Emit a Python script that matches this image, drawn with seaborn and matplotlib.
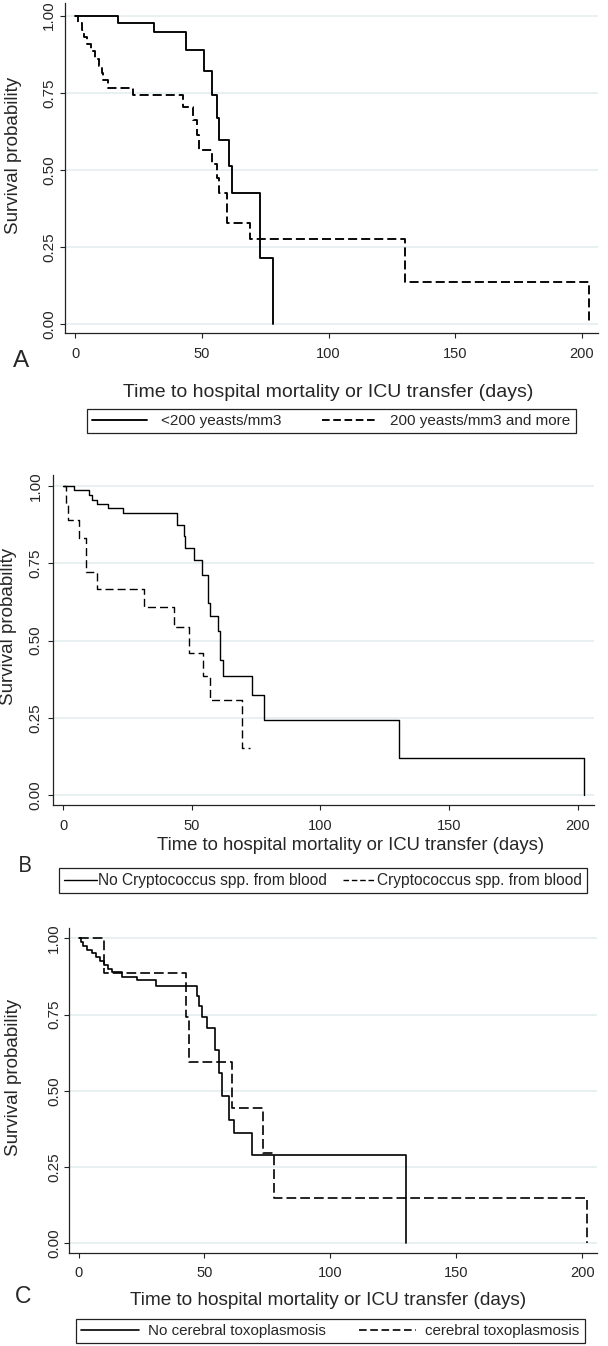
import numpy as np
import pandas as pd
import matplotlib
matplotlib.use("Agg")
import matplotlib.pyplot as plt
import seaborn as sns
from matplotlib.lines import Line2D

# ---------------- data (Kaplan-Meier step values) ----------------
# Panel A
a_low_t = [0, 16.7, 31.0, 43.7, 50.8, 54.0, 56.0, 56.8, 60.8, 62.0, 73.0, 78.0]
a_low_s = [1.0, 0.977, 0.946, 0.889, 0.821, 0.744, 0.669, 0.596, 0.512, 0.426, 0.214, 0.0]
a_high_t = [0, 1.0, 2.5, 3.6, 4.8, 6.2, 7.6, 9.3, 10.5, 11.1, 12.8, 22.7, 42.5, 46.3, 48.0,
            49.0, 54.0, 56.0, 56.7, 60.0, 69.0, 130.3, 202.7]
a_high_s = [1.0, 0.977, 0.953, 0.930, 0.907, 0.884, 0.860, 0.837, 0.814, 0.791, 0.767, 0.743,
            0.703, 0.662, 0.613, 0.565, 0.519, 0.473, 0.424, 0.329, 0.276, 0.138, 0.0]
a_labels = ["<200 yeasts/mm3", "200 yeasts/mm3 and more"]

# Panel B
b_neg_t = [0, 4.2, 10.1, 11.2, 13.1, 17.2, 23.3, 44.2, 47.0, 47.4, 50.9, 54.0, 56.3, 57.1,
           60.2, 61.0, 62.1, 73.3, 78.0, 130.4, 202.6]
b_neg_s = [1.0, 0.985, 0.970, 0.955, 0.940, 0.927, 0.913, 0.875, 0.837, 0.799, 0.761, 0.712,
           0.622, 0.578, 0.531, 0.437, 0.386, 0.323, 0.242, 0.121, 0.0]
b_pos_t = [0, 1.2, 1.9, 6.1, 8.7, 13.2, 31.4, 43.2, 48.9, 54.2, 57.1, 69.4, 72.6]
b_pos_s = [1.0, 0.942, 0.889, 0.833, 0.723, 0.667, 0.610, 0.543, 0.459, 0.386, 0.307, 0.154, 0.154]
b_labels = ["No Cryptococcus spp. from blood", "Cryptococcus spp. from blood"]

# Panel C
c_neg_t = [0, 0.9, 1.8, 3.4, 5.2, 7.1, 8.5, 10.2, 11.8, 13.2, 17.1, 23.0, 30.9, 47.0, 47.9,
           49.1, 51.1, 54.2, 55.8, 56.8, 59.9, 61.8, 69.0, 130.1]
c_neg_s = [1.0, 0.988, 0.975, 0.963, 0.951, 0.938, 0.926, 0.914, 0.901, 0.889, 0.874, 0.862,
           0.843, 0.811, 0.778, 0.742, 0.707, 0.634, 0.559, 0.484, 0.403, 0.361, 0.290, 0.0]
c_pos_t = [0, 10.2, 42.6, 44.0, 61.1, 73.4, 77.8, 201.9]
c_pos_s = [1.0, 0.887, 0.741, 0.593, 0.444, 0.296, 0.148, 0.0]
c_labels = ["No cerebral toxoplasmosis", "cerebral toxoplasmosis"]

x_ticks = [0, 50, 100, 150, 200]
y_ticks = [0.0, 0.25, 0.50, 0.75, 1.00]
y_ticklabels = ["0.00", "0.25", "0.50", "0.75", "1.00"]
x_title = "Time to hospital mortality or ICU transfer (days)"
y_title = "Survival probability"

# ---------------- style ----------------
sns.set_style("white")
plt.rcParams["font.family"] = ["Liberation Sans", "DejaVu Sans"]
plt.rcParams["lines.scale_dashes"] = False

fig = plt.figure(figsize=(6.08, 13.46), dpi=100)

GRID = "#e6eff0"

panels = [
    dict(rect=[0.1069, 0.7526, 0.8766, 0.24517], xlim=(-4.07, 206.4), ylim=(-0.028, 1.041),
         solid=(a_low_t, a_low_s), dashed=(a_high_t, a_high_s), labels=a_labels,
         lw=1.35, dash=(6.5, 2.9), xpad=6.5, ypad=2.7,
         ylab=(-0.0807, 0.539), xlab=(0.4934, -0.193), xlab_size=14,
         letter="A", letter_xy=(13, 367), letter_size=17.5, letter_font=["Liberation Sans"],
         leg_bbox=(0.1431, 0.67682, 0.8043, 0.0208), leg_size=11, hl=3.6, htp=0.9, leg_dash=(5.5, 2.6)),
    dict(rect=[0.0877, 0.40193, 0.8898, 0.24517], xlim=(-3.9, 206.5), ylim=(-0.031, 1.035),
         solid=(b_neg_t, b_neg_s), dashed=(b_pos_t, b_pos_s), labels=b_labels,
         lw=1.0, dash=(5.8, 2.9), xpad=6.5, ypad=4.0,
         ylab=(-0.0671, 0.542), xlab=(0.550, -0.136), xlab_size=13.3,
         letter="B", letter_xy=(18, 872), letter_size=15.5, letter_font=["Open Sans", "DejaVu Sans"],
         leg_bbox=(0.0970, 0.33507, 0.8684, 0.02155), leg_size=11.2, hl=2.1, htp=0.05, leg_dash=(4.0, 2.0)),
    dict(rect=[0.1140, 0.06887, 0.8674, 0.24168], xlim=(-3.7, 205.8), ylim=(-0.033, 1.034),
         solid=(c_neg_t, c_neg_s), dashed=(c_pos_t, c_pos_s), labels=c_labels,
         lw=1.2, dash=(7.0, 2.9), xpad=5.3, ypad=2.2,
         ylab=(-0.0897, 0.542), xlab=(0.4905, -0.159), xlab_size=13.7,
         letter="C", letter_xy=(15, 1303), letter_size=16.5, letter_font=["Liberation Sans"],
         leg_bbox=(0.125, 0.0008, 0.8372, 0.0208), leg_size=10.9, hl=3.8, htp=0.6, leg_dash=(5.5, 2.6)),
]

W, H = 608.0, 1346.0

for p in panels:
    ax = fig.add_axes(p["rect"])
    st, ss = p["solid"]
    dt, ds = p["dashed"]
    sns.lineplot(x=st, y=ss, ax=ax, color="black", linewidth=p["lw"],
                 drawstyle="steps-post", estimator=None, sort=False)
    sns.lineplot(x=dt, y=ds, ax=ax, color="black", linewidth=p["lw"],
                 drawstyle="steps-post", estimator=None, sort=False,
                 linestyle=(0, p["dash"]))

    ax.set_xlim(*p["xlim"])
    ax.set_ylim(*p["ylim"])
    ax.set_xticks(x_ticks)
    ax.set_xticklabels([str(v) for v in x_ticks])
    ax.set_yticks(y_ticks)
    ax.set_yticklabels(y_ticklabels, rotation=90, va="center")

    ax.yaxis.grid(True, color=GRID, linewidth=1.3)
    ax.xaxis.grid(False)
    ax.set_axisbelow(True)

    for side in ["top", "right"]:
        ax.spines[side].set_visible(False)
    for side in ["left", "bottom"]:
        ax.spines[side].set_color("#222222")
        ax.spines[side].set_linewidth(0.9)

    ax.tick_params(axis="x", direction="out", length=3.6, width=0.8, color="#222222",
                   labelsize=10.5, pad=p["xpad"], bottom=True)
    ax.tick_params(axis="y", direction="out", length=3.6, width=0.8, color="#222222",
                   labelsize=11, pad=p["ypad"], left=True)

    ax.set_ylabel(y_title, fontsize=13.5)
    ax.yaxis.set_label_coords(*p["ylab"])
    ax.set_xlabel(x_title, fontsize=p["xlab_size"])
    ax.xaxis.label.set_verticalalignment("baseline")
    ax.xaxis.set_label_coords(*p["xlab"])

    fig.text(p["letter_xy"][0] / W, 1 - p["letter_xy"][1] / H, p["letter"],
             fontsize=p["letter_size"], family=p["letter_font"], va="baseline", ha="left")

    handles = [
        Line2D([], [], color="black", linewidth=p["lw"]),
        Line2D([], [], color="black", linewidth=p["lw"], linestyle=(0, p["leg_dash"])),
    ]
    leg = ax.legend(handles, p["labels"], loc="center", bbox_to_anchor=p["leg_bbox"],
                    bbox_transform=fig.transFigure, mode="expand", ncol=2,
                    frameon=True, fancybox=False, shadow=False, borderaxespad=0,
                    borderpad=0.35, fontsize=p["leg_size"], handlelength=p["hl"],
                    handletextpad=p["htp"], columnspacing=1.0)
    fr = leg.get_frame()
    fr.set_edgecolor("#222222")
    fr.set_linewidth(0.9)
    fr.set_facecolor("white")
    fr.set_alpha(1.0)

fig.savefig("out.png", dpi=100)
